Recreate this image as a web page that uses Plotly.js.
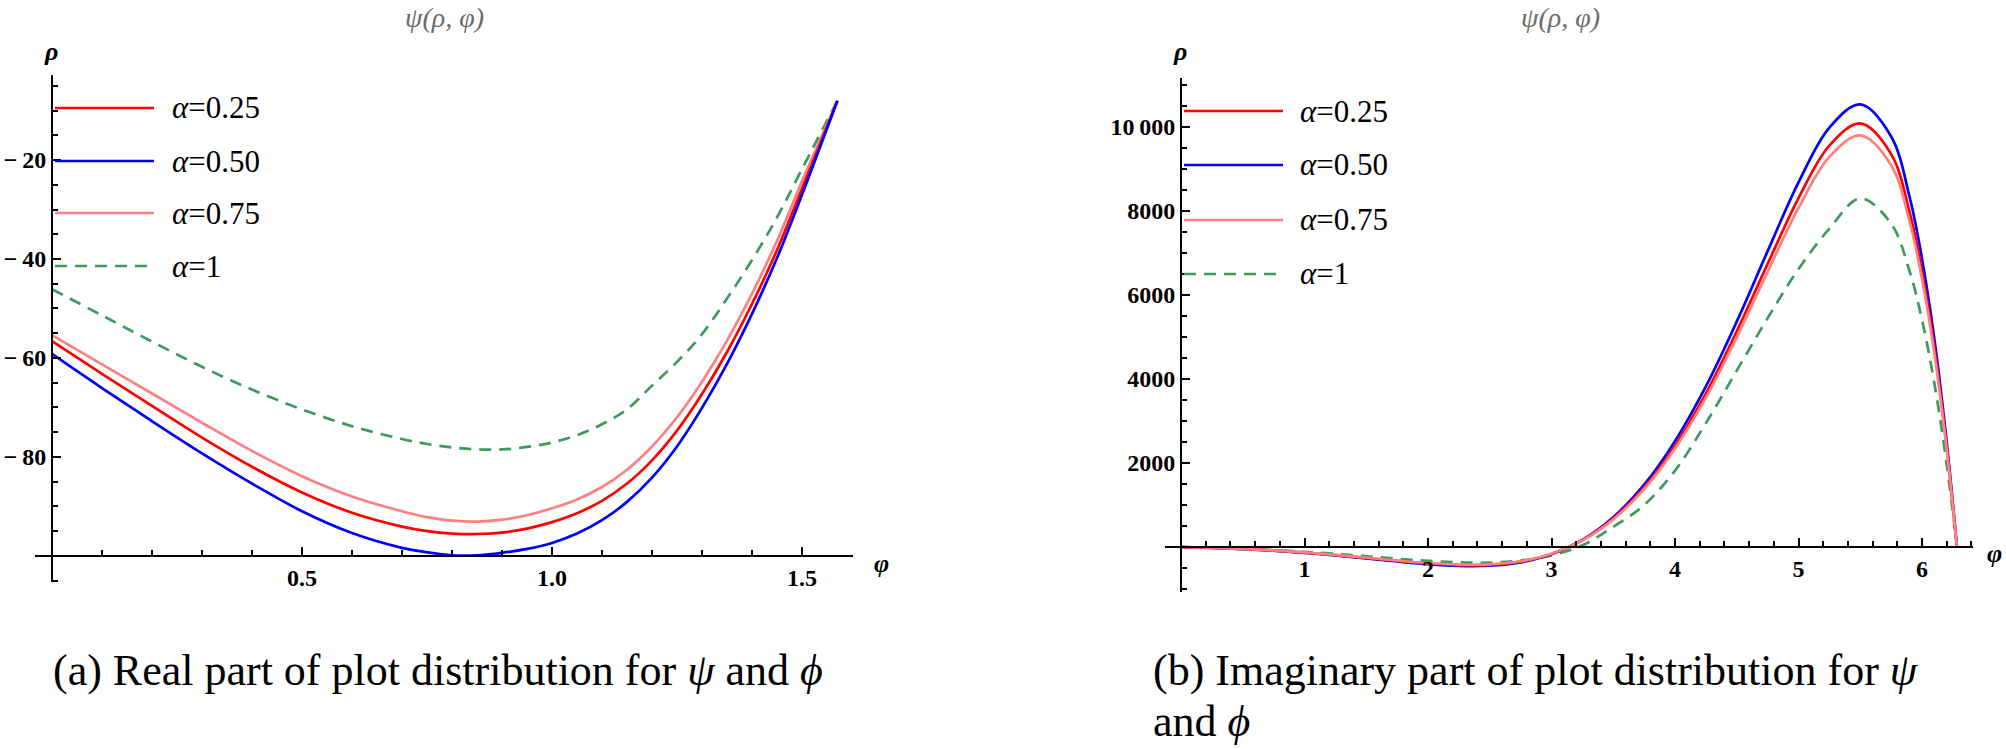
<!DOCTYPE html>
<html>
<head>
<meta charset="utf-8">
<script src="https://cdn.plot.ly/plotly-3.0.1.min.js"></script>
<style>html,body{margin:0;padding:0;background:#fff;}#chart{width:2006px;height:749px;}</style>
</head>
<body>
<div id="chart"></div>
<script>
// ---------- Data: real part (left panel) ----------
const phiRe  = [0, 0.1, 0.2, 0.3, 0.4, 0.5, 0.6, 0.7, 0.75, 0.8, 0.85, 0.9, 0.95, 1.0, 1.05, 1.1, 1.15, 1.2, 1.25, 1.3, 1.35, 1.4, 1.45, 1.5, 1.5708];
const reA025 = [-56.6, -63.2, -69.7, -76.1, -82.0, -87.2, -91.3, -94.1, -95.0, -95.5, -95.6, -95.3, -94.5, -93.2, -91.4, -88.9, -85.4, -80.7, -74.7, -67.3, -58.8, -49.1, -38.2, -25.8, -8];
const reA050 = [-59.2, -66.1, -72.8, -79.3, -85.4, -91.0, -95.4, -98.4, -99.3, -99.9, -99.9, -99.4, -98.6, -97.4, -95.5, -92.8, -89.1, -84.2, -77.9, -70.1, -61.2, -51.1, -39.8, -27.0, -8];
const reA075 = [-55.4, -61.3, -67.2, -73.1, -78.8, -83.9, -88.0, -91.0, -92.2, -92.9, -93.1, -92.7, -91.8, -90.4, -88.6, -86.1, -82.6, -77.9, -72.0, -64.8, -56.5, -47.0, -36.3, -24.3, -8];
const reA100 = [-46.1, -51.4, -56.7, -61.8, -66.4, -70.4, -73.8, -76.4, -77.4, -78.1, -78.5, -78.5, -78.0, -77.1, -75.6, -73.4, -70.4, -65.6, -60.8, -55.2, -48.0, -40.2, -31.6, -21.8, -8];

// ---------- Data: imaginary part (right panel) ----------
const phiIm  = [0, 0.25, 0.5, 0.75, 1, 1.25, 1.5, 1.75, 2, 2.25, 2.5, 2.75, 3, 3.25, 3.5, 3.75, 4, 4.25, 4.5, 4.75, 5, 5.25, 5.5, 5.75, 5.9, 6, 6.1, 6.2, 6.2832];
const imA025 = [0, -19, -46, -84, -133, -193, -261, -330, -392, -431, -425, -348, -166, 163, 679, 1419, 2413, 3659, 5138, 6741, 8308, 9558, 10085, 9355, 7969, 6571, 4743, 2391, 0];
const imA050 = [0, -19, -48, -88, -139, -202, -273, -345, -410, -450, -444, -364, -173, 170, 709, 1483, 2521, 3823, 5369, 7044, 8681, 9988, 10538, 9775, 8327, 6866, 4956, 2498, 0];
const imA075 = [0, -18, -45, -82, -129, -188, -254, -321, -381, -418, -413, -339, -161, 158, 659, 1379, 2345, 3555, 4993, 6551, 8073, 9289, 9800, 9091, 7744, 6385, 4609, 2323, 0];
const imA100 = [0, -16, -40, -73, -113, -163, -220, -280, -330, -365, -372, -320, -200, 40, 480, 1000, 1820, 2950, 4200, 5450, 6620, 7580, 8300, 7700, 6560, 5410, 3900, 1970, 0];

// ---------- Labels ----------
const seriesNames = ['α=0.25', 'α=0.50', 'α=0.75', 'α=1'];
const seriesColors = ['#ff0000', '#0000ff', '#ff8080', '#3d9a5c'];
const reXTicks = [0.5, 1.0, 1.5];
const reXTickText = ['0.5', '1.0', '1.5'];
const reYTicks = [-80, -60, -40, -20];
const reYTickText = ['−\u200980', '−\u200960', '−\u200940', '−\u200920'];
const imXTicks = [1, 2, 3, 4, 5, 6];
const imXTickText = ['1', '2', '3', '4', '5', '6'];
const imYTicks = [2000, 4000, 6000, 8000, 10000];
const imYTickText = ['2000', '4000', '6000', '8000', '10\u2009000'];

const W = 2006, H = 749;
const px = v => v / W;
const py = v => 1 - v / H;

const serif = "'Liberation Serif', 'Times New Roman', Times, serif";

function mk(x, y, i, xa, ya) {
  return {
    x: x, y: y, xaxis: xa, yaxis: ya, type: 'scatter', mode: 'lines',
    line: {color: seriesColors[i], width: 2.7, shape: 'spline', smoothing: 1, dash: i === 3 ? '12px,8px' : 'solid'},
    hoverinfo: 'skip', showlegend: false
  };
}

const traces = [
  mk(phiRe, reA100, 3, 'x', 'y'),
  mk(phiRe, reA075, 2, 'x', 'y'),
  mk(phiRe, reA025, 0, 'x', 'y'),
  mk(phiRe, reA050, 1, 'x', 'y'),
  mk(phiIm, imA100, 3, 'x2', 'y2'),
  mk(phiIm, imA050, 1, 'x2', 'y2'),
  mk(phiIm, imA025, 0, 'x2', 'y2'),
  mk(phiIm, imA075, 2, 'x2', 'y2')
];

function axisBase() {
  return {
    showgrid: false, zeroline: false, showline: true, linecolor: '#000', linewidth: 2.4,
    ticks: 'inside', ticklen: 8, tickwidth: 2, tickcolor: '#000',
    tickfont: {family: serif, size: 24, color: '#000', weight: 700},
    tickmode: 'array', anchor: 'free', fixedrange: true
  };
}
function minorTicks(d) {
  return {tickmode: 'linear', tick0: 0, dtick: d, ticks: 'inside', ticklen: 5, tickwidth: 2, tickcolor: '#000', showgrid: false};
}

const layout = {
  width: W, height: H,
  margin: {l: 0, r: 0, t: 0, b: 0},
  paper_bgcolor: '#fff', plot_bgcolor: 'rgba(0,0,0,0)',
  font: {family: serif, color: '#000'},
  showlegend: false,
  xaxis: Object.assign(axisBase(), {
    domain: [px(35), px(853)], range: [-0.034, 1.602],
    position: py(556), tickvals: reXTicks, ticktext: reXTickText, minor: minorTicks(0.1)
  }),
  yaxis: Object.assign(axisBase(), {
    domain: [py(582), py(75)], range: [-105.3, -2.8],
    position: px(52), tickvals: reYTicks, ticktext: reYTickText, minor: minorTicks(5)
  }),
  xaxis2: Object.assign(axisBase(), {
    domain: [px(1165), px(1973)], range: [-0.130, 6.413],
    position: py(547), tickvals: imXTicks, ticktext: imXTickText, minor: minorTicks(0.2)
  }),
  yaxis2: Object.assign(axisBase(), {
    domain: [py(592), py(78)], range: [-1071, 11167],
    position: px(1181), tickvals: imYTicks, ticktext: imYTickText, minor: minorTicks(500)
  }),
  shapes: [],
  annotations: []
};

// titles and axis labels
const titleFont = {family: serif, size: 28, color: '#6b6b6b', style: 'italic'};
const axLabFont = {family: serif, size: 26, color: '#000', style: 'italic', weight: 700};
function ann(text, x, y, font, xanchor, yanchor) {
  layout.annotations.push({text: text, x: px(x), y: py(y), xref: 'paper', yref: 'paper',
    showarrow: false, font: font, xanchor: xanchor || 'center', yanchor: yanchor || 'middle'});
}
ann('ψ(ρ, φ)', 444, 18, titleFont);
ann('ψ(ρ, φ)', 1560, 18, titleFont);
ann('ρ', 51, 52, axLabFont);
ann('ρ', 1180, 52, axLabFont);
ann('φ', 881, 563, axLabFont);
ann('φ', 1994, 553, axLabFont);

// legends
const legFont = {family: serif, size: 31, color: '#000'};
const legLeftY = [108, 161, 213, 266];
const legRightY = [111, 165, 220, 274];
function legend(x0, x1, tx, ys) {
  ys.forEach((y, i) => {
    layout.shapes.push({type: 'line', xref: 'paper', yref: 'paper', x0: px(x0), x1: px(x1), y0: py(y), y1: py(y),
      line: {color: seriesColors[i], width: 2.7, dash: i === 3 ? '12px,8px' : 'solid'}});
    const parts = seriesNames[i].split('=');
    ann('<i>' + parts[0] + '</i>=' + parts[1], tx, y, legFont, 'left');
  });
}
legend(55, 154, 170, legLeftY);
legend(1184, 1283, 1298, legRightY);

// captions
const capFont = {family: serif, size: 44, color: '#000'};
ann('(a) Real part of plot distribution for <i>ψ</i> and <i>ϕ</i>', 438, 670, capFont);
ann('(b) Imaginary part of plot distribution for <i>ψ</i>', 1151, 670, capFont, 'left');
ann('and <i>ϕ</i>', 1151, 748, capFont, 'left', 'bottom');

Plotly.newPlot('chart', traces, layout, {staticPlot: true, displayModeBar: false});
</script>
</body>
</html>
